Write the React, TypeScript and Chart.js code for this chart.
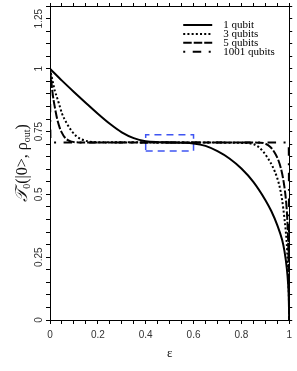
import React, { useEffect, useRef } from "react";
import { Chart, registerables } from "chart.js";

Chart.register(...registerables);

// ---- data ----
const eps1 = [0, 0.05, 0.1, 0.15, 0.2, 0.25, 0.3, 0.35, 0.4, 0.45, 0.5, 0.55, 0.6, 0.65, 0.7, 0.75, 0.8, 0.85, 0.9, 0.925, 0.95, 0.97, 0.98, 0.99, 0.995, 0.998, 1];
const fid1 = [1, 0.953, 0.908, 0.864, 0.821, 0.781, 0.747, 0.724, 0.712, 0.708, 0.707, 0.706, 0.703, 0.693, 0.672, 0.643, 0.603, 0.55, 0.478, 0.434, 0.378, 0.32, 0.275, 0.205, 0.15, 0.095, 0];

const eps3 = [0, 0.01, 0.02, 0.03, 0.04, 0.05, 0.07, 0.09, 0.11, 0.13, 0.16, 0.2, 0.5, 0.8, 0.85, 0.87, 0.89, 0.91, 0.93, 0.95, 0.96, 0.97, 0.98, 0.985, 0.99, 0.994, 0.997, 0.999, 1];
const fid3 = [1, 0.955, 0.913, 0.884, 0.853, 0.822, 0.783, 0.753, 0.732, 0.72, 0.711, 0.708, 0.707, 0.705, 0.7, 0.69, 0.672, 0.645, 0.612, 0.565, 0.53, 0.48, 0.405, 0.36, 0.3, 0.22, 0.14, 0.07, 0];

const eps5 = [0, 0.005, 0.01, 0.015, 0.02, 0.03, 0.04, 0.05, 0.06, 0.075, 0.09, 0.12, 0.2, 0.5, 0.88, 0.9, 0.92, 0.94, 0.955, 0.965, 0.975, 0.982, 0.988, 0.992, 0.995, 0.997, 0.999, 1];
const fid5 = [1, 0.955, 0.91, 0.875, 0.848, 0.8, 0.767, 0.745, 0.729, 0.716, 0.71, 0.707, 0.707, 0.707, 0.706, 0.702, 0.69, 0.665, 0.635, 0.605, 0.56, 0.515, 0.46, 0.4, 0.33, 0.25, 0.12, 0];

const eps1001 = [0, 0.002, 0.006, 0.5, 0.994, 0.998, 1];
const fid1001 = [1, 0.72, 0.707, 0.707, 0.707, 0.69, 0];

// blue dashed box (x range, y range)
const boxX = [0.4, 0.6];
const boxY = [0.673, 0.737];

const seriesLabels = ["1 qubit", "3 qubits", "5 qubits", "1001 qubits"];
const xTickValues = [0, 0.2, 0.4, 0.6, 0.8, 1];
const xTickLabels = ["0", "0.2", "0.4", "0.6", "0.8", "1"];
const yTickValues = [0, 0.25, 0.5, 0.75, 1, 1.25];
const yTickLabels = ["0", "0.25", "0.5", "0.75", "1", "1.25"];
const xTitle = "ε";

const dashes = [[], [2, 2.2], [8.5, 2], [2, 7.5, 8.5, 7.5]];

const pts = (xs: number[], ys: number[]) => xs.map((x, i) => ({ x, y: ys[i] }));

const tickFont = "Liberation Sans";

const yLabelsPlugin = {
  id: "yLabels",
  afterDraw(chart: any) {
    const ctx = chart.ctx;
    const y = chart.scales.y;
    ctx.save();
    ctx.font = `10px ${tickFont}`;
    ctx.fillStyle = "#333";
    ctx.textAlign = "center";
    ctx.textBaseline = "middle";
    yTickValues.forEach((v, i) => {
      let py = y.getPixelForValue(v);
      const w = ctx.measureText(yTickLabels[i]).width;
      if (py - w / 2 < 9) py = 9 + w / 2;
      ctx.save();
      ctx.translate(39, py);
      ctx.rotate(-Math.PI / 2);
      ctx.fillText(yTickLabels[i], 0, 0);
      ctx.restore();
    });
    ctx.restore();
  },
};

const yTitlePlugin = {
  id: "yTitle",
  afterDraw(chart: any) {
    const ctx = chart.ctx;
    const area = chart.chartArea;
    const cy = (area.top + area.bottom) / 2;
    const big = "16px Liberation Serif";
    const bigIt = "italic 17px Liberation Serif";
    const small = "10px Liberation Serif";
    const parts = [
      { t: "𝒯", f: bigIt, dy: 0 },
      { t: "0", f: small, dy: 4 },
      { t: "(|0>, ρ", f: big, dy: 0 },
      { t: "out", f: small, dy: 4 },
      { t: ")", f: big, dy: 0 },
    ];
    ctx.save();
    let total = 0;
    const widths = parts.map((p) => {
      ctx.font = p.f;
      const w = ctx.measureText(p.t).width;
      total += w;
      return w;
    });
    ctx.translate(23, cy);
    ctx.rotate(-Math.PI / 2);
    ctx.fillStyle = "#111";
    ctx.textBaseline = "middle";
    ctx.textAlign = "left";
    let x = -total / 2;
    parts.forEach((p, i) => {
      ctx.font = p.f;
      ctx.fillText(p.t, x, p.dy);
      x += widths[i];
    });
    ctx.restore();
  },
};

const legendPlugin = {
  id: "customLegend",
  afterDraw(chart: any) {
    const ctx = chart.ctx;
    const area = chart.chartArea;
    const x0 = area.right - 106;
    const y0 = area.top + 19;
    ctx.save();
    seriesLabels.forEach((lab, i) => {
      const yy = y0 + i * 8.9;
      ctx.beginPath();
      ctx.setLineDash(dashes[i]);
      ctx.lineWidth = 2;
      ctx.strokeStyle = "#000";
      ctx.moveTo(x0, yy);
      ctx.lineTo(x0 + 29, yy);
      ctx.stroke();
      ctx.setLineDash([]);
      ctx.font = "11px Liberation Serif";
      ctx.fillStyle = "#000";
      ctx.textBaseline = "middle";
      ctx.textAlign = "left";
      ctx.fillText(lab, x0 + 40, yy);
    });
    ctx.restore();
  },
};

export default function App() {
  const ref = useRef<HTMLCanvasElement | null>(null);
  useEffect(() => {
    if (!ref.current) return;
    const lineDs = (label: string, data: any[], i: number) => ({
      label,
      data,
      borderColor: "#000",
      backgroundColor: "#000",
      borderWidth: 2,
      borderDash: dashes[i],
      pointRadius: 0,
      showLine: true,
      fill: false,
      cubicInterpolationMode: "monotone" as const,
    });
    const gridOpts = (len: number) => ({
      display: true,
      drawOnChartArea: false,
      drawTicks: true,
      tickLength: len,
      color: "#000",
      lineWidth: 1,
    });
    const chart = new Chart(ref.current, {
      type: "scatter",
      data: {
        datasets: [
          lineDs(seriesLabels[0], pts(eps1, fid1), 0),
          lineDs(seriesLabels[1], pts(eps3, fid3), 1),
          lineDs(seriesLabels[2], pts(eps5, fid5), 2),
          lineDs(seriesLabels[3], pts(eps1001, fid1001), 3),
          {
            label: "box",
            data: [
              { x: boxX[0], y: boxY[0] },
              { x: boxX[1], y: boxY[0] },
              { x: boxX[1], y: boxY[1] },
              { x: boxX[0], y: boxY[1] },
              { x: boxX[0], y: boxY[0] },
            ],
            borderColor: "#3f55f2",
            borderWidth: 1.5,
            borderDash: [7, 5],
            pointRadius: 0,
            showLine: true,
            fill: false,
          } as any,
        ],
      },
      options: {
        responsive: false,
        animation: false,
        layout: { padding: 0 },
        plugins: { legend: { display: false }, tooltip: { enabled: false } },
        scales: {
          x: {
            type: "linear",
            position: "bottom",
            min: 0,
            max: 1,
            grid: gridOpts(4),
            border: { display: true, color: "#000", width: 1 },
            ticks: {
              stepSize: 0.05,
              autoSkip: false,
              maxRotation: 0,
              padding: 5,
              color: "#333",
              font: { family: tickFont, size: 10 },
              callback: (v: any) => {
                const idx = xTickValues.findIndex((t) => Math.abs(t - v) < 1e-6);
                return idx >= 0 ? xTickLabels[idx] : "";
              },
            },
            title: {
              display: true,
              text: xTitle,
              color: "#111",
              font: { family: "Liberation Serif", size: 13 },
              padding: { top: 0, bottom: 10 },
            },
            afterFit: (s: any) => {
              s.height = 51;
            },
          },
          x2: {
            type: "linear",
            axis: "x",
            position: "top",
            min: 0,
            max: 1,
            grid: gridOpts(3),
            border: { display: true, color: "#000", width: 1 },
            ticks: { stepSize: 0.05, display: false },
            afterFit: (s: any) => {
              s.height = 6;
            },
          },
          y: {
            type: "linear",
            position: "left",
            min: 0,
            max: 1.25,
            grid: gridOpts(4),
            border: { display: true, color: "#000", width: 1 },
            ticks: { stepSize: 0.05, display: false },
            afterFit: (s: any) => {
              s.width = 50;
            },
          },
          y2: {
            type: "linear",
            axis: "y",
            position: "right",
            min: 0,
            max: 1.25,
            grid: gridOpts(3),
            border: { display: true, color: "#000", width: 1 },
            ticks: { stepSize: 0.05, display: false },
            afterFit: (s: any) => {
              s.width = 7;
            },
          },
        } as any,
      },
      plugins: [yLabelsPlugin, yTitlePlugin, legendPlugin],
    });
    return () => chart.destroy();
  }, []);
  return (
    <div style={{ position: "fixed", left: 0, top: 0, width: 297, height: 371, background: "#fff" }}>
      <canvas ref={ref} width={297} height={371} style={{ width: 297, height: 371, display: "block" }} />
    </div>
  );
}
